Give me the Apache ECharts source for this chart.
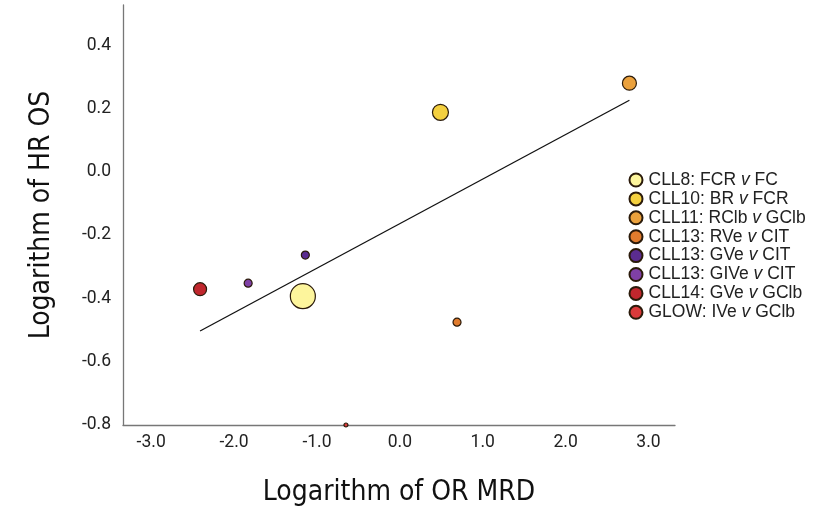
<!DOCTYPE html>
<html><head><meta charset="utf-8">
<script src="https://cdn.jsdelivr.net/npm/echarts@6/dist/echarts.min.js"></script>
<style>html,body{margin:0;padding:0;background:#fff}#c{width:815px;height:512px}</style>
</head><body><div id="c"></div>
<script>
const studies = ["CLL8: FCR v FC","CLL10: BR v FCR","CLL11: RClb v GClb","CLL13: RVe v CIT","CLL13: GVe v CIT","CLL13: GIVe v CIT","CLL14: GVe v GClb","GLOW: IVe v GClb"];
const logOR = [-1.17, 0.49, 2.77, 0.69, -1.14, -1.83, -2.41, -0.65];
const logHR = [-0.393, 0.188, 0.28, -0.475, -0.263, -0.352, -0.371, -0.80];
const weights = [25, 16, 14, 8, 8, 8, 13, 4];
const colors = ["#FDF59C","#F4D03F","#EBA13C","#E07B2D","#5B2C90","#7F40A6","#C0272D","#DB3A3A"];
const fitX = [-2.41, 2.77];
const fitY = [-0.503, 0.226];
const xTicks = [-3, -2, -1, 0, 1, 2, 3];
const yTicks = [-0.8, -0.6, -0.4, -0.2, 0, 0.2, 0.4];

function legendRich(name){
  const p = name.split(' v ');
  return '{n|' + p[0] + ' }{i|v}{n| ' + p[1] + '}';
}
const series = studies.map((s,i)=>({
  name: s, type: 'scatter',
  data: [[logOR[i], logHR[i]]],
  symbolSize: weights[i],
  itemStyle: {color: colors[i], borderColor: '#2a1a0a', borderWidth: 1.2, opacity: 1},
  z: 3
}));
series.push({
  name: 'fit', type: 'line', data: fitX.map((x,i)=>[x, fitY[i]]),
  symbol: 'none', lineStyle: {color: '#111', width: 1.3}, z: 2, silent: true
});
const titleFont = 'DejaVu Sans Condensed, Liberation Sans Narrow, Roboto, sans-serif';
const legFont = 'Liberation Sans, Arial, sans-serif';
const chart = echarts.init(document.getElementById('c'), null, {renderer: 'canvas'});
chart.setOption({
  animation: false,
  backgroundColor: '#fff',
  grid: {left: 123, top: 5, right: 140, bottom: 87, containLabel: false},
  xAxis: {
    type: 'value', min: -3.34, max: 3.32,
    name: 'Logarithm of OR MRD', nameLocation: 'middle', nameGap: 54,
    nameTextStyle: {fontFamily: titleFont, fontSize: 28, color: '#111'},
    axisLine: {onZero: false, lineStyle: {color: '#777', width: 1.3}},
    axisTick: {show: false},
    splitLine: {show: false},
    axisLabel: {customValues: xTicks, formatter: v => v.toFixed(1), fontFamily: 'Roboto, sans-serif', fontSize: 17.5, color: '#222', margin: 9}
  },
  yAxis: {
    type: 'value', min: -0.8, max: 0.527,
    name: 'Logarithm of HR OS', nameLocation: 'middle', nameGap: 67, nameRotate: 90,
    nameTextStyle: {fontFamily: titleFont, fontSize: 28, color: '#111'},
    axisLine: {show: true, onZero: false, lineStyle: {color: '#777', width: 1.3}},
    axisTick: {show: false},
    splitLine: {show: false},
    axisLabel: {customValues: yTicks, formatter: v => v.toFixed(1), fontFamily: 'Roboto, sans-serif', fontSize: 17.5, color: '#222', margin: 12}
  },
  legend: {
    orient: 'vertical', left: 628.5, top: 171, padding: 0, itemWidth: 13, itemHeight: 13, itemGap: 0.9,
    icon: 'circle', data: studies,
    formatter: legendRich,
    textStyle: {
      color: '#222', fontFamily: legFont, fontSize: 17.5, padding: [0,0,0,1],
      rich: {n: {fontFamily: legFont, fontSize: 17.5, lineHeight: 13, color: '#222'},
             i: {fontFamily: legFont, fontSize: 17.5, lineHeight: 13, color: '#222', fontStyle: 'italic'}}
    }
  },
  series: series
});
</script></body></html>
